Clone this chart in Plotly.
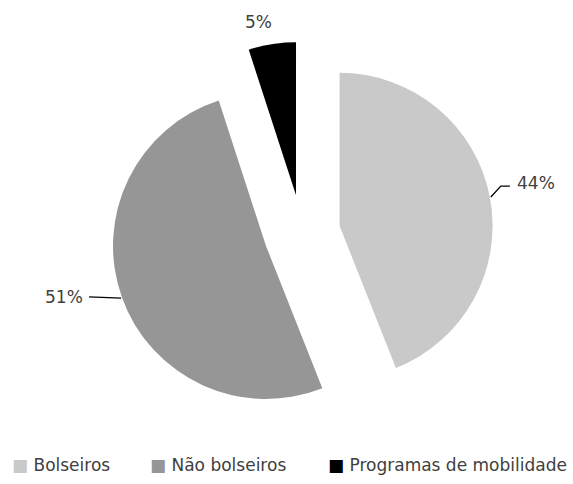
import math
import plotly.graph_objects as go

# Share of students by funding situation
labels = ['Bolseiros', 'Não bolseiros', 'Programas de mobilidade']
values = [44, 51, 5]
pct_labels = ['44%', '51%', '5%']
colors = ['#c9c9c9', '#969696', '#000000']

W, H = 573, 484
FONT = 'DejaVu Sans'
TEXT_COLOR = '#404040'

# pie geometry in pixels (centre, radius, pull)
cx, cy, r, pull = 302, 233, 153, 0.25
half = r * (1 + pull)


def px(x):
    return x / W


def py(y):
    return 1 - y / H


fig = go.Figure()

fig.add_trace(go.Pie(
    labels=labels,
    values=values,
    sort=False,
    direction='clockwise',
    rotation=0,
    pull=[pull] * len(values),
    marker=dict(colors=colors, line=dict(width=0)),
    textinfo='none',
    showlegend=False,
    domain=dict(x=[px(cx - half), px(cx + half)], y=[py(cy + half), py(cy - half)]),
    hoverinfo='label+percent',
))

# outside labels with leader lines, from the slice mid angles
# leader points relative to the arc point, then text offset and anchor
label_style = [
    ([(11, -11), (20, -11)], (25, -14), 'left'),
    ([(-33, -1)], (-37, -1), 'right'),
    ([], (-14, -22), 'center'),
]
total = sum(values)
cum = 0
for v, txt, (leader, (tdx, tdy), anchor) in zip(values, pct_labels, label_style):
    theta = math.radians((cum + v / 2) / total * 360)
    cum += v
    ux, uy = math.sin(theta), -math.cos(theta)
    ax = cx + pull * r * ux + r * ux
    ay = cy + pull * r * uy + r * uy
    if leader:
        path = 'M {:.4f} {:.4f}'.format(px(ax + ux), py(ay + uy))
        for ldx, ldy in leader:
            path += ' L {:.4f} {:.4f}'.format(px(ax + ldx), py(ay + ldy))
        fig.add_shape(type='path', xref='paper', yref='paper', path=path,
                      line=dict(color='#000000', width=1.3))
    fig.add_annotation(
        x=px(ax + tdx), y=py(ay + tdy), xref='paper', yref='paper',
        text=txt, showarrow=False, xanchor=anchor, yanchor='middle',
        font=dict(family=FONT, size=17, color=TEXT_COLOR),
    )

# legend row: coloured square + label
legend_x = [10, 148, 326]
legend_y = 465
for name, col, lx in zip(labels, colors, legend_x):
    fig.add_annotation(
        x=px(lx), y=py(legend_y), xref='paper', yref='paper',
        text='<span style="color:{}">■</span> {}'.format(col, name),
        showarrow=False, xanchor='left', yanchor='middle',
        font=dict(family=FONT, size=17, color=TEXT_COLOR),
    )

fig.update_layout(
    width=W,
    height=H,
    margin=dict(l=0, r=0, t=0, b=0),
    paper_bgcolor='white',
    plot_bgcolor='white',
    font=dict(family=FONT, size=17, color=TEXT_COLOR),
    showlegend=False,
)

fig.write_html("out.html", config={'displayModeBar': False},
               post_script="document.body.style.margin = '0';")
